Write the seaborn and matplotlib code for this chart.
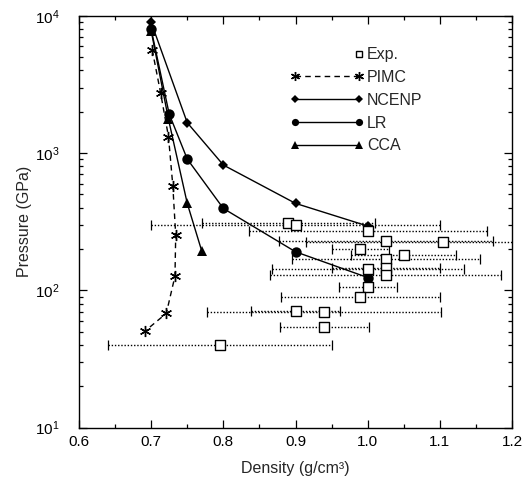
import numpy as np
import pandas as pd
import matplotlib
matplotlib.use("Agg")
import matplotlib.pyplot as plt
import seaborn as sns
from matplotlib.lines import Line2D
from matplotlib.legend_handler import HandlerLine2D
from matplotlib.ticker import LogLocator, MultipleLocator

# ---- data ----
exp_density = [0.89, 0.90, 1.00, 1.025, 1.105, 0.99, 1.05, 1.025, 1.00, 1.025, 1.025, 1.00, 0.99, 0.90, 0.94, 0.94, 0.795]
exp_pressure = [308, 299, 270, 230, 226, 200, 181, 170, 142, 146, 130, 106, 90, 70.6, 70, 54, 39.8]
exp_density_err = [0.12, 0.20, 0.165, 0.148, 0.19, 0.04, 0.073, 0.13, 0.133, 0.075, 0.16, 0.04, 0.11, 0.062, 0.162, 0.062, 0.155]

pimc_density = [0.7015, 0.713, 0.724, 0.730, 0.734, 0.733, 0.721, 0.692]
pimc_pressure = [5630, 2750, 1315, 578, 253, 127, 68, 50.8]

ncenp_density = [0.70, 0.75, 0.80, 0.90, 1.00]
ncenp_pressure = [8950, 1663, 818, 430, 294]

lr_density = [0.70, 0.725, 0.75, 0.80, 0.90, 1.00]
lr_pressure = [7960, 1923, 904, 395, 191, 124]

cca_density = [0.70, 0.724, 0.75, 0.77]
cca_pressure = [7770, 1760, 430, 194]

x_ticks = [0.6, 0.7, 0.8, 0.9, 1.0, 1.1, 1.2]
x_tick_labels = ["0.6", "0.7", "0.8", "0.9", "1.0", "1.1", "1.2"]

sns.set_theme(style="ticks")
plt.rcParams["font.family"] = ["Liberation Sans", "DejaVu Sans"]
plt.rcParams["mathtext.default"] = "regular"

fig = plt.figure(figsize=(5.27, 4.83), dpi=100)
ax = fig.add_axes([79 / 527, 1 - 427.7 / 483, (512 - 79) / 527, (427.7 - 15.7) / 483])

# experimental error bars (dotted, capped)
eb = ax.errorbar(exp_density, exp_pressure, xerr=exp_density_err, fmt="none",
                 ecolor="black", elinewidth=1.0, capsize=3.5, capthick=0.9, zorder=2)
for lc in eb[2]:
    lc.set_linestyle((0, (1, 1.3)))

line_kw = dict(color="black", linewidth=1.0, sort=False, estimator=None, legend=False,
               markeredgecolor="black")
sns.lineplot(x=pimc_density, y=pimc_pressure, ax=ax, marker=(6, 2, 0), markersize=8,
             markeredgewidth=1.0, linestyle=(0, (4, 3)), **line_kw)
sns.lineplot(x=ncenp_density, y=ncenp_pressure, ax=ax, marker="D", markersize=5.5,
             markeredgewidth=0, **line_kw)
sns.lineplot(x=lr_density, y=lr_pressure, ax=ax, marker="o", markersize=7.5,
             markeredgewidth=0, **line_kw)
sns.lineplot(x=cca_density, y=cca_pressure, ax=ax, marker="^", markersize=7.5,
             markeredgewidth=0, **line_kw)

exp_df = pd.DataFrame({"density": exp_density, "pressure": exp_pressure})
sns.scatterplot(data=exp_df, x="density", y="pressure", ax=ax, marker="s", s=45,
                facecolor="white", edgecolor="black", linewidth=1.0, zorder=5, legend=False)

ax.set_yscale("log")
ax.set_xlim(0.6, 1.2)
ax.set_ylim(10, 1e4)
ax.set_xticks(x_ticks)
ax.set_xticklabels(x_tick_labels)
ax.xaxis.set_minor_locator(MultipleLocator(0.05))
ax.yaxis.set_major_locator(LogLocator(base=10, numticks=10))
ax.yaxis.set_minor_locator(LogLocator(base=10, subs=np.arange(2, 10), numticks=20))

ax.tick_params(which="both", direction="in", top=True, right=True, labelsize=11, colors="black")
ax.tick_params(which="major", length=6, width=0.9, pad=5)
ax.tick_params(which="minor", length=3, width=0.9)
ax.tick_params(axis="y", which="major", pad=14)
for s in ax.spines.values():
    s.set_linewidth(1.0)
    s.set_color("black")

ax.set_xlabel("Density (g/cm³)", fontsize=11.5, labelpad=9)
ax.set_ylabel("Pressure (GPa)", fontsize=11.5, labelpad=2)


class RightMarkerHandler(HandlerLine2D):
    def create_artists(self, *args, **kwargs):
        arts = super().create_artists(*args, **kwargs)
        for a in arts:
            n = len(a.get_xdata())
            a.set_markevery([n - 1])
        return arts


h_exp = Line2D([], [], linestyle="none", marker="s", markersize=4.8, markerfacecolor="white",
               markeredgecolor="black", markeredgewidth=1.0)
h_pimc = Line2D([], [], color="black", linewidth=1.0, linestyle=(0, (4, 3)), marker=(6, 2, 0),
                markersize=6.5, markeredgewidth=1.0)
h_ncenp = Line2D([], [], color="black", linewidth=1.0, marker="D", markersize=4.3, markeredgewidth=0)
h_lr = Line2D([], [], color="black", linewidth=1.0, marker="o", markersize=5.2, markeredgewidth=0)
h_cca = Line2D([], [], color="black", linewidth=1.0, marker="^", markersize=5.5, markeredgewidth=0)

ax.legend([h_exp, h_pimc, h_ncenp, h_lr, h_cca], ["Exp.", "PIMC", "NCENP", "LR", "CCA"],
          handler_map={h_exp: RightMarkerHandler(numpoints=2)},
          loc="upper left", bbox_to_anchor=(0.47, 0.943), frameon=False, borderpad=0,
          numpoints=2, handlelength=4.6, handletextpad=0.2, labelspacing=0.49, fontsize=11.5)

fig.savefig("out.png", dpi=100)
